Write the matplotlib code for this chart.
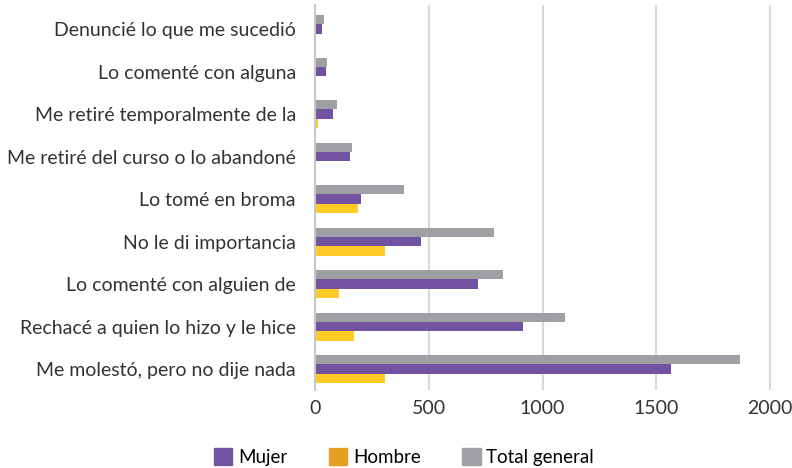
import numpy as np
import matplotlib
matplotlib.use('Agg')
from matplotlib import pyplot as plt
from matplotlib.patches import Patch

categories = ['Denuncié lo que me sucedió', 'Lo comenté con alguna', 'Me retiré temporalmente de la',
              'Me retiré del curso o lo abandoné', 'Lo tomé en broma', 'No le di importancia',
              'Lo comenté con alguien de', 'Rechacé a quien lo hizo y le hice', 'Me molestó, pero no dije nada']
total = [37, 54, 96, 161, 391, 785, 824, 1097, 1869]
mujer = [28, 46, 78, 153, 202, 465, 718, 916, 1565]
hombre = [5, 5, 12, 5, 186, 308, 103, 170, 308]

c_mujer = '#7253A2'
c_hombre = '#FFC926'
c_hombre_leg = '#E5A024'
c_total = '#A0A0A4'

plt.rcParams['font.family'] = ['Lato', 'DejaVu Sans']

fig = plt.figure(figsize=(7.92, 4.68), dpi=100)
ax = fig.add_axes([0.398, 0.167, 0.6, 0.822])

y = np.arange(len(categories))
h = 0.22
ax.barh(y - h, total, height=h, color=c_total, zorder=2)
ax.barh(y, mujer, height=h, color=c_mujer, zorder=2)
ax.barh(y + h, hombre, height=h, color=c_hombre, zorder=2)

ax.set_ylim(8.49, -0.565)
ax.set_xlim(0, 2090)
ax.set_yticks(y)
ax.set_yticklabels(categories, fontsize=14, color='#333333')
ax.set_xticks([0, 500, 1000, 1500, 2000])
ax.tick_params(axis='x', labelsize=14, colors='#333333', length=0, pad=7)
ax.tick_params(axis='y', length=0, pad=14)
ax.grid(axis='x', color='#D9D9D9', linewidth=1.5, zorder=0)
for s in ['top', 'right', 'bottom']:
    ax.spines[s].set_visible(False)
ax.spines['left'].set_color('#C8C8C8')
ax.spines['left'].set_linewidth(1.5)

handles = [Patch(color=c_mujer, label='Mujer'), Patch(color=c_hombre_leg, label='Hombre'),
           Patch(color=c_total, label='Total general')]
fig.legend(handles=handles, loc='lower center', bbox_to_anchor=(0.51, -0.032), ncol=3, frameon=False,
           fontsize=13.5, handlelength=1.0, handleheight=1.0, columnspacing=2.2, handletextpad=0.3)

fig.savefig('out.png', dpi=100)
